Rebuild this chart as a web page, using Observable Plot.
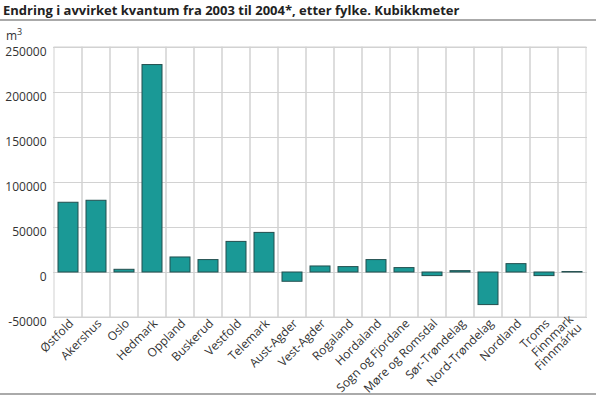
<!DOCTYPE html>
<html>
<head>
<meta charset="utf-8">
<script src="https://cdn.jsdelivr.net/npm/d3@7"></script>
<script src="https://cdn.jsdelivr.net/npm/@observablehq/plot@0.6"></script>
<style>
  html, body { margin: 0; padding: 0; background: #fff; }
  body { width: 596px; height: 395px; position: relative; overflow: hidden; font-family: "Open Sans", sans-serif; color: #222; }
  #title { position: absolute; left: 3px; top: 1px; font-size: 13px; font-weight: bold; white-space: nowrap; }
  #topline { position: absolute; left: 0; top: 19px; width: 596px; height: 0; border-top: 2px solid #aaa; }
  #unit { position: absolute; left: 6px; top: 25px; font-size: 12px; color: #333; z-index: 2; line-height: 14px; }
  #unit sup { font-size: 9px; }
  #chart { position: absolute; left: 0; top: 22px; z-index: 1; }
  #chart svg { background: transparent !important; overflow: visible; }
  #bottomline { position: absolute; left: 0; top: 393px; width: 596px; height: 0; border-top: 2px solid #aaa; z-index: 3; }
</style>
</head>
<body>
<div id="title">Endring i avvirket kvantum fra 2003 til 2004*, etter fylke. Kubikkmeter</div>
<div id="topline"></div>
<div id="chart"></div>
<div id="unit">m<sup>3</sup></div>
<div id="bottomline"></div>
<script>
const counties = ["Østfold","Akershus","Oslo","Hedmark","Oppland","Buskerud","Vestfold","Telemark","Aust-Agder","Vest-Agder","Rogaland","Hordaland","Sogn og Fjordane","Møre og Romsdal","Sør-Trøndelag","Nord-Trøndelag","Nordland","Troms","Finnmark\nFinnmárku"];
const change = [77500, 79700, 3000, 230500, 16700, 13800, 34000, 44000, -10300, 6700, 6000, 13800, 4900, -4000, 1500, -36200, 9300, -4000, 500];
const yTicks = [-50000, 0, 50000, 100000, 150000, 200000, 250000];

const data = counties.map((c, i) => ({county: c, value: change[i]}));

const plot = Plot.plot({
  width: 596,
  height: 373,
  marginLeft: 53,
  marginRight: 9,
  marginTop: 25,
  marginBottom: 78,
  style: {fontFamily: "Open Sans, sans-serif", fontSize: "12px", color: "#333", background: "transparent", overflow: "visible"},
  x: {domain: counties, padding: 0, label: null, axis: null},
  y: {domain: [-50000, 250000], ticks: yTicks, label: null, axis: null},
  marks: [
    Plot.gridY(yTicks, {stroke: "#d2d2d2", strokeOpacity: 1, strokeWidth: 1}),
    Plot.barY(counties, {x: d => d, y1: -50000, y2: 250000, fill: "none", stroke: "#d2d2d2", strokeWidth: 1}),
    Plot.barY(data, {x: "county", y: "value", fill: "#1a9996", stroke: "#234f4f", strokeWidth: 1, insetLeft: 4, insetRight: 4}),
    Plot.axisY(yTicks, {tickSize: 0, tickPadding: 7, dy: 5, fill: "#333", fontSize: 12, label: null, tickFormat: d => String(d)}),
    Plot.axisX({tickSize: 0, tickRotate: -45, tickPadding: 4, dx: 3, fill: "#333", fontSize: 12, label: null})
  ]
});
document.getElementById("chart").appendChild(plot);
</script>
</body>
</html>
